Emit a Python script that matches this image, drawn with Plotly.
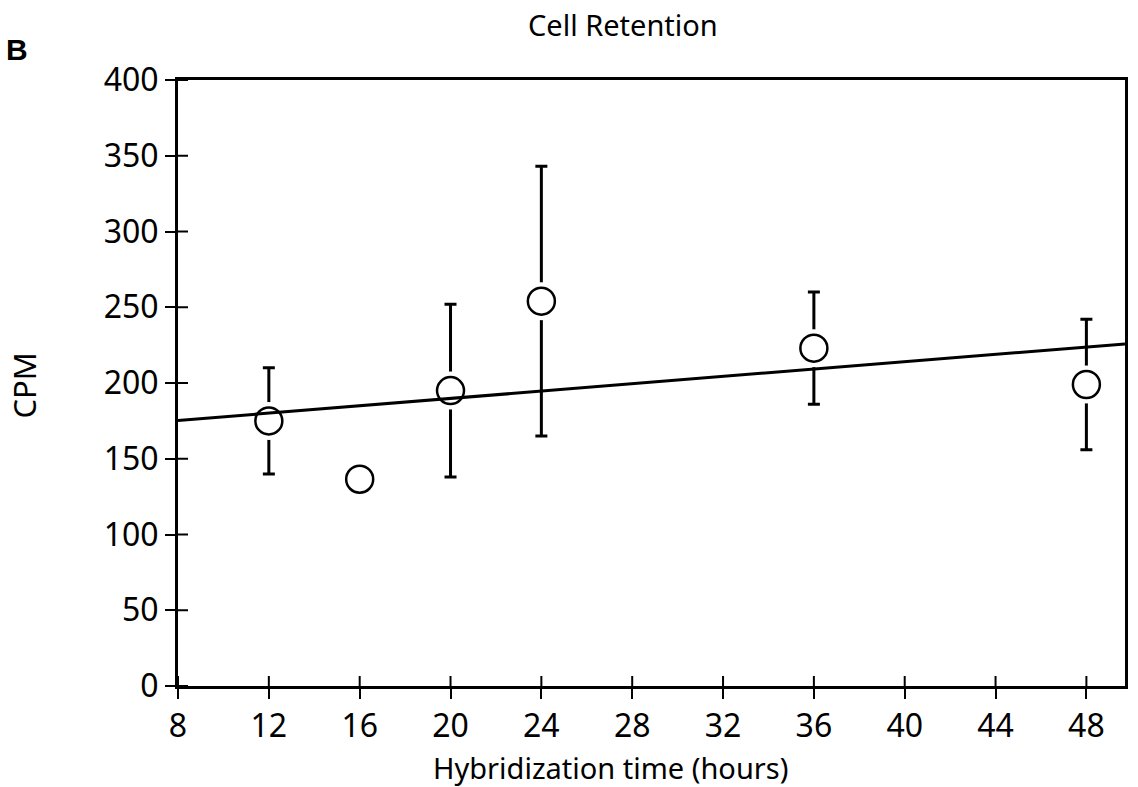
import numpy as np
import plotly.graph_objects as go

# Data
hours = [12, 16, 20, 24, 36, 48]
cpm = [175, 136.5, 195, 254, 223, 199]
cpm_err = [35, 0, 57, 89, 37, 43]
x_ticks = [8, 12, 16, 20, 24, 28, 32, 36, 40, 44, 48]
y_ticks = [0, 50, 100, 150, 200, 250, 300, 350, 400]
x_range = [8, 49.7]
y_range = [0, 400]

# Regression line through the data
slope, intercept = np.polyfit(hours, cpm, 1)
fit_x = x_range
fit_y = [intercept + slope * v for v in fit_x]

FONT = "Noto Sans"
W, H = 1138, 787
ML, MR, MT, MB = 178, 10, 80, 101
pw, ph = W - ML - MR, H - MT - MB


def px_x(p):
    return (p - ML) / pw


def px_y(p):
    return (H - MB - p) / ph


fig = go.Figure()

# error bars (markers hidden)
fig.add_trace(go.Scatter(
    x=hours, y=cpm, mode="markers",
    error_y=dict(type="data", array=cpm_err, visible=True,
                 color="black", thickness=3, width=6),
    marker=dict(size=1, opacity=0),
    showlegend=False, hoverinfo="skip",
))
# white halo leaving a gap between bars and circles
fig.add_trace(go.Scatter(
    x=hours, y=cpm, mode="markers",
    marker=dict(symbol="circle", size=38, color="white", line=dict(width=0)),
    showlegend=False, hoverinfo="skip",
))
# open circles
fig.add_trace(go.Scatter(
    x=hours, y=cpm, mode="markers",
    marker=dict(symbol="circle", size=27, color="white",
                line=dict(color="black", width=2.5)),
    showlegend=False,
))
# regression line
fig.add_trace(go.Scatter(
    x=fit_x, y=fit_y, mode="lines",
    line=dict(color="black", width=3),
    showlegend=False,
))

axis_common = dict(showgrid=False, zeroline=False, showline=True, mirror=True,
                   linecolor="black", linewidth=3, ticks="outside",
                   ticklen=10, tickwidth=2, tickcolor="black",
                   tickfont=dict(family=FONT, size=32, color="black"))

fig.update_layout(
    width=W, height=H,
    margin=dict(l=ML, r=MR, t=MT, b=MB),
    paper_bgcolor="white", plot_bgcolor="white",
    font=dict(family=FONT, color="black"),
    xaxis=dict(range=x_range, tickmode="array", tickvals=x_ticks,
               ticktext=[str(v) for v in x_ticks], **axis_common),
    yaxis=dict(range=y_range, tickmode="array", tickvals=y_ticks,
               ticktext=[str(v) for v in y_ticks], **axis_common),
)

# inner halves of the crossing tick marks
for v in x_ticks:
    fig.add_shape(type="line", xref="x", yref="y", ysizemode="pixel",
                  yanchor=y_range[0], x0=v, x1=v, y0=0, y1=10,
                  line=dict(color="black", width=2), layer="above")
for v in y_ticks:
    fig.add_shape(type="line", xref="x", yref="y", xsizemode="pixel",
                  xanchor=x_range[0], y0=v, y1=v, x0=0, x1=10,
                  line=dict(color="black", width=2), layer="above")

fig.add_annotation(text="Cell Retention", xref="paper", yref="paper",
                   x=px_x(527), y=px_y(46), xanchor="left", yanchor="bottom",
                   showarrow=False, font=dict(family=FONT, size=29, color="black"))
fig.add_annotation(text="Hybridization time (hours)", xref="paper", yref="paper",
                   x=px_x(612), y=px_y(767), xanchor="center", yanchor="middle",
                   showarrow=False, font=dict(family=FONT, size=29, color="black"))
fig.add_annotation(text="CPM", xref="paper", yref="paper",
                   x=px_x(24), y=px_y(385), xanchor="center", yanchor="middle",
                   textangle=-90, showarrow=False,
                   font=dict(family=FONT, size=31, color="black"))
fig.add_annotation(text="<b>B</b>", xref="paper", yref="paper",
                   x=px_x(16), y=px_y(50), xanchor="center", yanchor="middle",
                   showarrow=False,
                   font=dict(family="Liberation Sans Narrow, Liberation Sans",
                             size=30, color="black"))

fig.write_html("out.html")
